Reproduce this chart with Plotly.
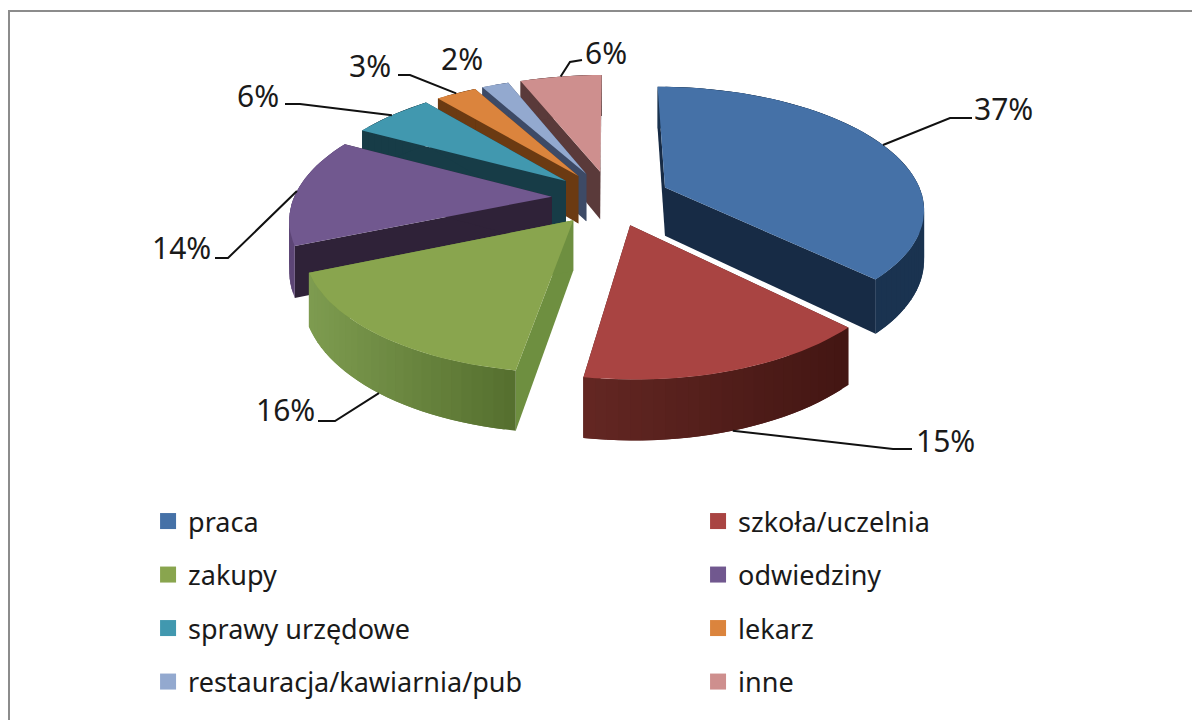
import numpy as np
import plotly.graph_objects as go

# values
categories = ["praca", "szkoła/uczelnia", "zakupy", "odwiedziny", "sprawy urzędowe", "lekarz",
              "restauracja/kawiarnia/pub", "inne"]
values = [37, 15, 16, 14, 6, 3, 2, 6]
pct_labels = ["37%", "15%", "16%", "14%", "6%", "3%", "2%", "6%"]

top_colors = ["#4571A7", "#A94442", "#89A54E", "#71588F", "#4198AF", "#DB843D", "#93A9CF", "#CE8F8E"]
cut_colors = ["#172B45", "#4A1A17", "#6E8F40", "#2F2238", "#173C47", "#6B3A12", "#3D4A66", "#5A3A3A"]
wall_left = ["#1A3350", "#642723", "#7E9C50", "#5D4676", "#173C47", "#6B3A12", "#3D4A66", "#5A3A3A"]
wall_right = ["#1A3350", "#431613", "#56702F", "#5D4676", "#173C47", "#6B3A12", "#3D4A66", "#5A3A3A"]

# drawing order, back to front
draw_order = [7, 6, 5, 4, 3, 2, 0, 1]

# label placement, in page pixels
label_x = [1003, 945, 285, 181, 258, 370, 462, 606]
label_y = [108, 440, 409, 247, 95, 65, 58, 52]
# leader elbows: knee and end of each leader line (None = no leader)
leader_knee = [(950, 118), (893, 449), (335, 421), (228, 258), (300, 104), (410, 75), None, (570, 62)]
leader_end = [(972, 118), (912, 449), (318, 421), (215, 258), (285, 104), (398, 75), None, (582, 60)]

# projection of the tilted pie
CX, CY = 611, 198
RX, RY = 258, 120
PERSP = 0.16
EXPLODE = 0.23
DEPTH = 49


def project(px, py, down=0.0):
    s = 1 / (1 - PERSP * py)
    return CX + RX * px * s, CY + RY * py * s + down * s


def hex_mix(c1, c2, t):
    a = [int(c1[i:i + 2], 16) for i in (1, 3, 5)]
    b = [int(c2[i:i + 2], 16) for i in (1, 3, 5)]
    return "rgb(%d,%d,%d)" % tuple(round(u + (v - u) * t) for u, v in zip(a, b))


def add_poly(fig, pts, color):
    fig.add_trace(go.Scatter(x=[p[0] for p in pts], y=[p[1] for p in pts], mode="lines", fill="toself",
                             fillcolor=color, line=dict(width=0), hoverinfo="skip", showlegend=False))


fractions = np.array(values) / sum(values)
edges = np.concatenate([[0], np.cumsum(fractions)]) * 2 * np.pi

fig = go.Figure()

for i in draw_order:
    t0, t1 = edges[i], edges[i + 1]
    mid = (t0 + t1) / 2
    ox, oy = EXPLODE * np.sin(mid), -EXPLODE * np.cos(mid)
    thetas = np.linspace(t0, t1, max(int((t1 - t0) / np.radians(2)), 3))
    arc = [(ox + np.sin(t), oy - np.cos(t)) for t in thetas]

    # cut faces
    for px, py in (arc[0], arc[-1]):
        add_poly(fig, [project(ox, oy), project(px, py), project(px, py, DEPTH), project(ox, oy, DEPTH)],
                 cut_colors[i])

    # outer wall, in overlapping strips so the shading runs across it without seams
    xa = [project(*p)[0] for p in arc]
    xmin, xmax = min(xa), max(xa)
    for k in range(len(arc) - 1):
        a, b = arc[k], arc[min(k + 2, len(arc) - 1)]
        q = [project(*a), project(*b), project(*b, DEPTH), project(*a, DEPTH)]
        shade = (xa[k] - xmin) / max(xmax - xmin, 1)
        add_poly(fig, q, hex_mix(wall_left[i], wall_right[i], shade))

    # top face
    add_poly(fig, [project(ox, oy)] + [project(*p) for p in arc], top_colors[i])

# leader lines start on the outer edge of each slice
for i, (knee, end) in enumerate(zip(leader_knee, leader_end)):
    if knee is None:
        continue
    mid = (edges[i] + edges[i + 1]) / 2
    r = 1 + EXPLODE
    on_front = np.cos(mid) < -0.5
    sx, sy = project(r * np.sin(mid), -r * np.cos(mid), DEPTH if on_front else 0)
    fig.add_trace(go.Scatter(x=[sx, knee[0], end[0]], y=[sy, knee[1], end[1]], mode="lines",
                             line=dict(color="#111111", width=2), hoverinfo="skip", showlegend=False))

for i, text in enumerate(pct_labels):
    fig.add_annotation(x=label_x[i], y=label_y[i], text=text, showarrow=False,
                       font=dict(family="Noto Sans", size=30, color="#1a1a1a"))

# legend: two columns, left column on odd positions
for i, name in enumerate(categories):
    fig.add_trace(go.Scatter(x=[None], y=[None], mode="markers", name=name,
                             marker=dict(symbol="square", size=17, color=top_colors[i]),
                             legend="legend" if i % 2 == 0 else "legend2",
                             legendgroup=name))

legend_style = dict(font=dict(family="Noto Sans", size=27, color="#1a1a1a"), tracegroupgap=15.4,
                    bgcolor="rgba(0,0,0,0)", yanchor="top", xanchor="left", itemsizing="trace",
                    itemclick=False, itemdoubleclick=False)

# the page body has an 8px margin, so the figure covers page pixels 8..1200 and 8..720
fig.update_layout(
    width=1192, height=712,
    margin=dict(l=0, r=0, t=0, b=0),
    paper_bgcolor="white", plot_bgcolor="white",
    showlegend=True,
    legend=dict(x=0.1175, y=0.3132, **legend_style),
    legend2=dict(x=0.5789, y=0.3132, **legend_style),
    xaxis=dict(range=[8, 1200], visible=False, fixedrange=True),
    yaxis=dict(range=[720, 8], visible=False, fixedrange=True),
    shapes=[dict(type="line", x0=9, x1=1200, y0=11, y1=11, line=dict(color="#8c8c8c", width=2)),
            dict(type="line", x0=9, x1=9, y0=10, y1=720, line=dict(color="#8c8c8c", width=2))],
)

fig.write_html("out.html")
